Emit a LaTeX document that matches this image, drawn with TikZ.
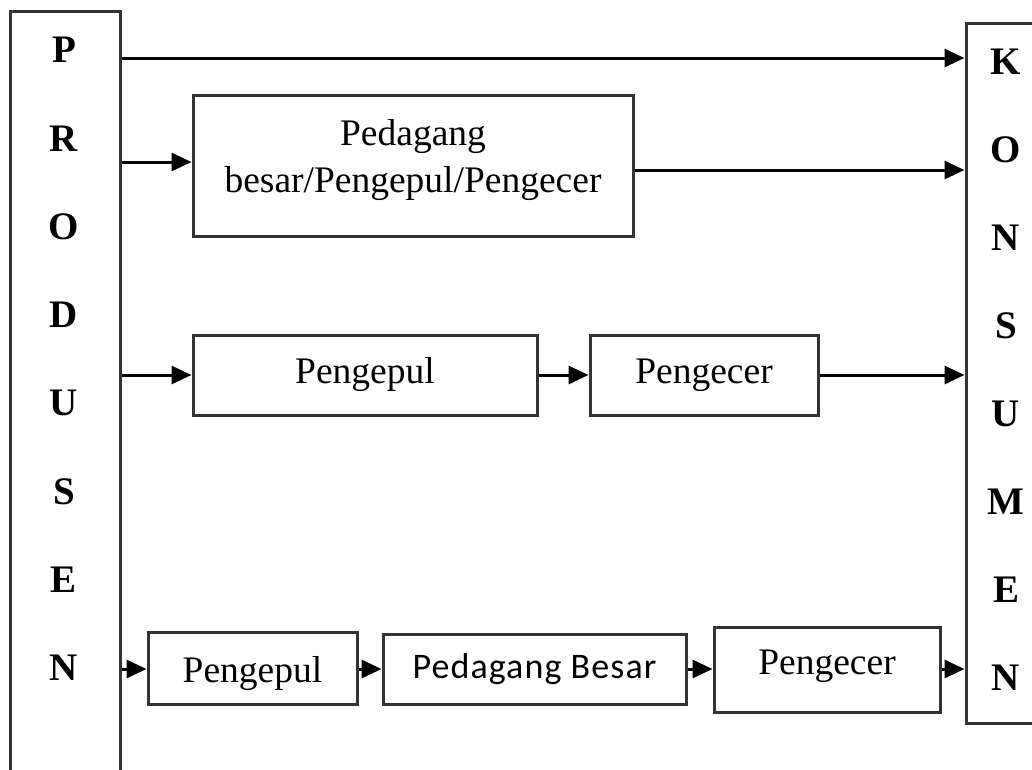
\documentclass[tikz,border=0pt]{standalone}
\usepackage{fontspec}
\setmainfont{Liberation Serif}
\newfontfamily\calibrifont[LetterSpace=3]{Carlito}
\usetikzlibrary{arrows.meta}
\tikzset{
  boxst/.style={draw=black!80, line width=3pt, inner sep=0pt, align=center,
    font=\fontsize{37.5}{47}\selectfont},
  letter/.style={inner sep=0pt, font=\fontsize{39}{39}\selectfont\bfseries},
  arr/.style={line width=3pt, -{Triangle[length=20pt,width=18pt]}},
}
\begin{document}
\begin{tikzpicture}[x=1pt,y=-1pt]
\useasboundingbox (0,0) rectangle (1032,769);
\clip (0,0) rectangle (1032,769);
\fill[white] (0,0) rectangle (1032,769);
% side boxes
\node[boxst, minimum width=110pt, minimum height=790pt] (prod) at (65,406) {};
\node[boxst, minimum width=94pt, minimum height=700pt] (kons) at (1013,373) {};
% letters
\foreach \c [count=\i from 0] in {P,R,O,D,U,S,E,N}
  \node[letter] (p\i) at (64,50+88.3*\i) {\c};
\foreach \c [count=\i from 0] in {K,O,N,S,U,M,E,N}
  \node[letter] (k\i) at (1006,62+88*\i) {\c};
% boxes
\node[boxst, minimum width=440pt, minimum height=141pt, text depth=20pt] (b1) at (413,165.5) {Pedagang\\besar/Pengepul/Pengecer};
\node[boxst, minimum width=344pt, minimum height=80pt] (r3a) at (365,375) {Pengepul};
\node[boxst, minimum width=228pt, minimum height=80pt] (r3b) at (704,375) {Pengecer};
\node[boxst, minimum width=209pt, minimum height=72pt, text height=30pt, text depth=2pt] (r4a) at (252.5,668) {Pengepul};
\node[boxst, minimum width=303pt, minimum height=70pt, font=\calibrifont\fontsize{36}{40}\selectfont] (r4b) at (534.5,669) {Pedagang Besar};
\node[boxst, minimum width=226pt, minimum height=85pt, text depth=14pt] (r4c) at (827,669.5) {Pengecer};
% arrows
\draw[arr] (prod.east |- 0,58) -- (kons.west |- 0,58);
\draw[arr] (prod.east |- 0,162) -- (b1.west |- 0,162);
\draw[arr] (b1.east |- 0,170) -- (kons.west |- 0,170);
\draw[arr] (prod.east |- r3a.west) -- (r3a.west);
\draw[arr] (r3a.east) -- (r3b.west);
\draw[arr] (r3b.east) -- (kons.west |- r3b.east);
\draw[arr] (prod.east |- 0,669) -- (r4a.west |- 0,669);
\draw[arr] (r4a.east |- 0,669) -- (r4b.west |- 0,669);
\draw[arr] (r4b.east |- 0,669) -- (r4c.west |- 0,669);
\draw[arr] (r4c.east |- 0,669) -- (kons.west |- 0,669);
\end{tikzpicture}
\end{document}
